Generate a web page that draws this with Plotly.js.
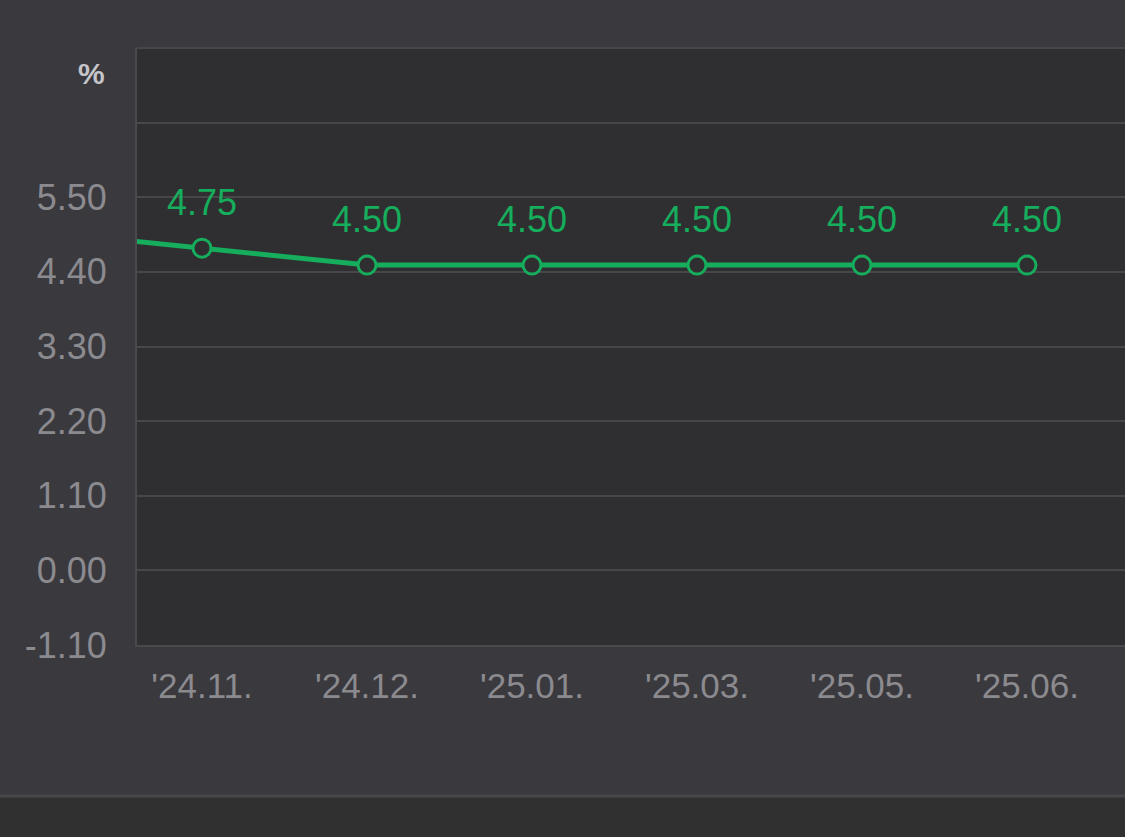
<!DOCTYPE html>
<html><head><meta charset="utf-8">
<script src="https://cdn.plot.ly/plotly-3.0.1.min.js"></script>
<style>html,body{margin:0;padding:0;background:#3a393e;}#c{width:1125px;height:837px;}</style>
</head><body><div id="c"></div>
<script>
const categories = ["'24.09.", "'24.11.", "'24.12.", "'25.01.", "'25.03.", "'25.05.", "'25.06."];
const rates = [5.00, 4.75, 4.50, 4.50, 4.50, 4.50, 4.50];
const yTicks = [-1.1, 0, 1.1, 2.2, 3.3, 4.4, 5.5];
const yTickLabels = ["-1.10", "0.00", "1.10", "2.20", "3.30", "4.40", "5.50"];
const yExtraGrid = [6.6, 7.7];
const unitLabel = "%";

const green = "#16ad5c";
const font = "Liberation Sans, Arial, sans-serif";
const xIdx = categories.map((_, i) => i);
// first category lies left of the visible range (only the line segment entering from the edge shows)
const visIdx = xIdx.slice(1);
const visRates = rates.slice(1);

const lineTrace = {
  x: xIdx, y: rates,
  type: "scatter", mode: "lines+markers",
  line: {color: green, width: 5},
  marker: {size: 18, color: "#2f2f31", line: {color: green, width: 3}},
  cliponaxis: true, hoverinfo: "skip"
};
const labelTrace = {
  x: visIdx, y: visRates,
  type: "scatter", mode: "markers+text",
  marker: {size: 37, color: "rgba(0,0,0,0)", line: {width: 0}},
  text: visRates.map(v => v.toFixed(2)),
  textposition: "top center",
  textfont: {family: font, size: 36, color: green},
  cliponaxis: false, hoverinfo: "skip"
};

const layout = {
  width: 1125, height: 837,
  paper_bgcolor: "#3a393e",
  plot_bgcolor: "#2f2f31",
  margin: {l: 137, r: 0, t: 48, b: 192},
  showlegend: false,
  font: {family: font},
  xaxis: {
    range: [0.606, 6.594],
    tickvals: visIdx,
    ticktext: categories.slice(1),
    showgrid: false, zeroline: false,
    showline: true, linecolor: "#4a494e", linewidth: 2,
    ticks: "", ticklabelstandoff: 9,
    tickfont: {family: font, size: 35, color: "#8b8a8f"},
    fixedrange: true
  },
  yaxis: {
    range: [-1.1, 7.7],
    tickvals: yTicks,
    ticktext: yTickLabels,
    showgrid: true, gridcolor: "#474649", gridwidth: 2,
    minor: {tickvals: yExtraGrid, showgrid: true, gridcolor: "#474649", gridwidth: 2, ticks: ""},
    zeroline: false,
    showline: true, linecolor: "#4a494e", linewidth: 2,
    ticks: "", ticklabelstandoff: 21,
    tickfont: {family: font, size: 36, color: "#8b8a8f"},
    fixedrange: true
  },
  shapes: [
    {type: "line", xref: "paper", yref: "paper", x0: 0, x1: 1, y0: 1, y1: 1, line: {color: "#474649", width: 2}},
    {type: "rect", xref: "paper", yref: "paper", x0: -0.2, x1: 1.01, y0: -0.2513, y1: -0.33, fillcolor: "#303030", line: {width: 0}, layer: "below"},
    {type: "line", xref: "paper", yref: "paper", x0: -0.2, x1: 1.01, y0: -0.2528, y1: -0.2528, line: {color: "#48474c", width: 3}}
  ],
  annotations: [
    {text: unitLabel, xref: "paper", yref: "paper", x: -0.0305, y: 0.958, xanchor: "right", yanchor: "middle",
     showarrow: false, font: {family: font, size: 30, color: "#c6c5c9", weight: "bold"}}
  ]
};

Plotly.newPlot("c", [lineTrace, labelTrace], layout, {displayModeBar: false, staticPlot: true});
</script>
</body></html>
